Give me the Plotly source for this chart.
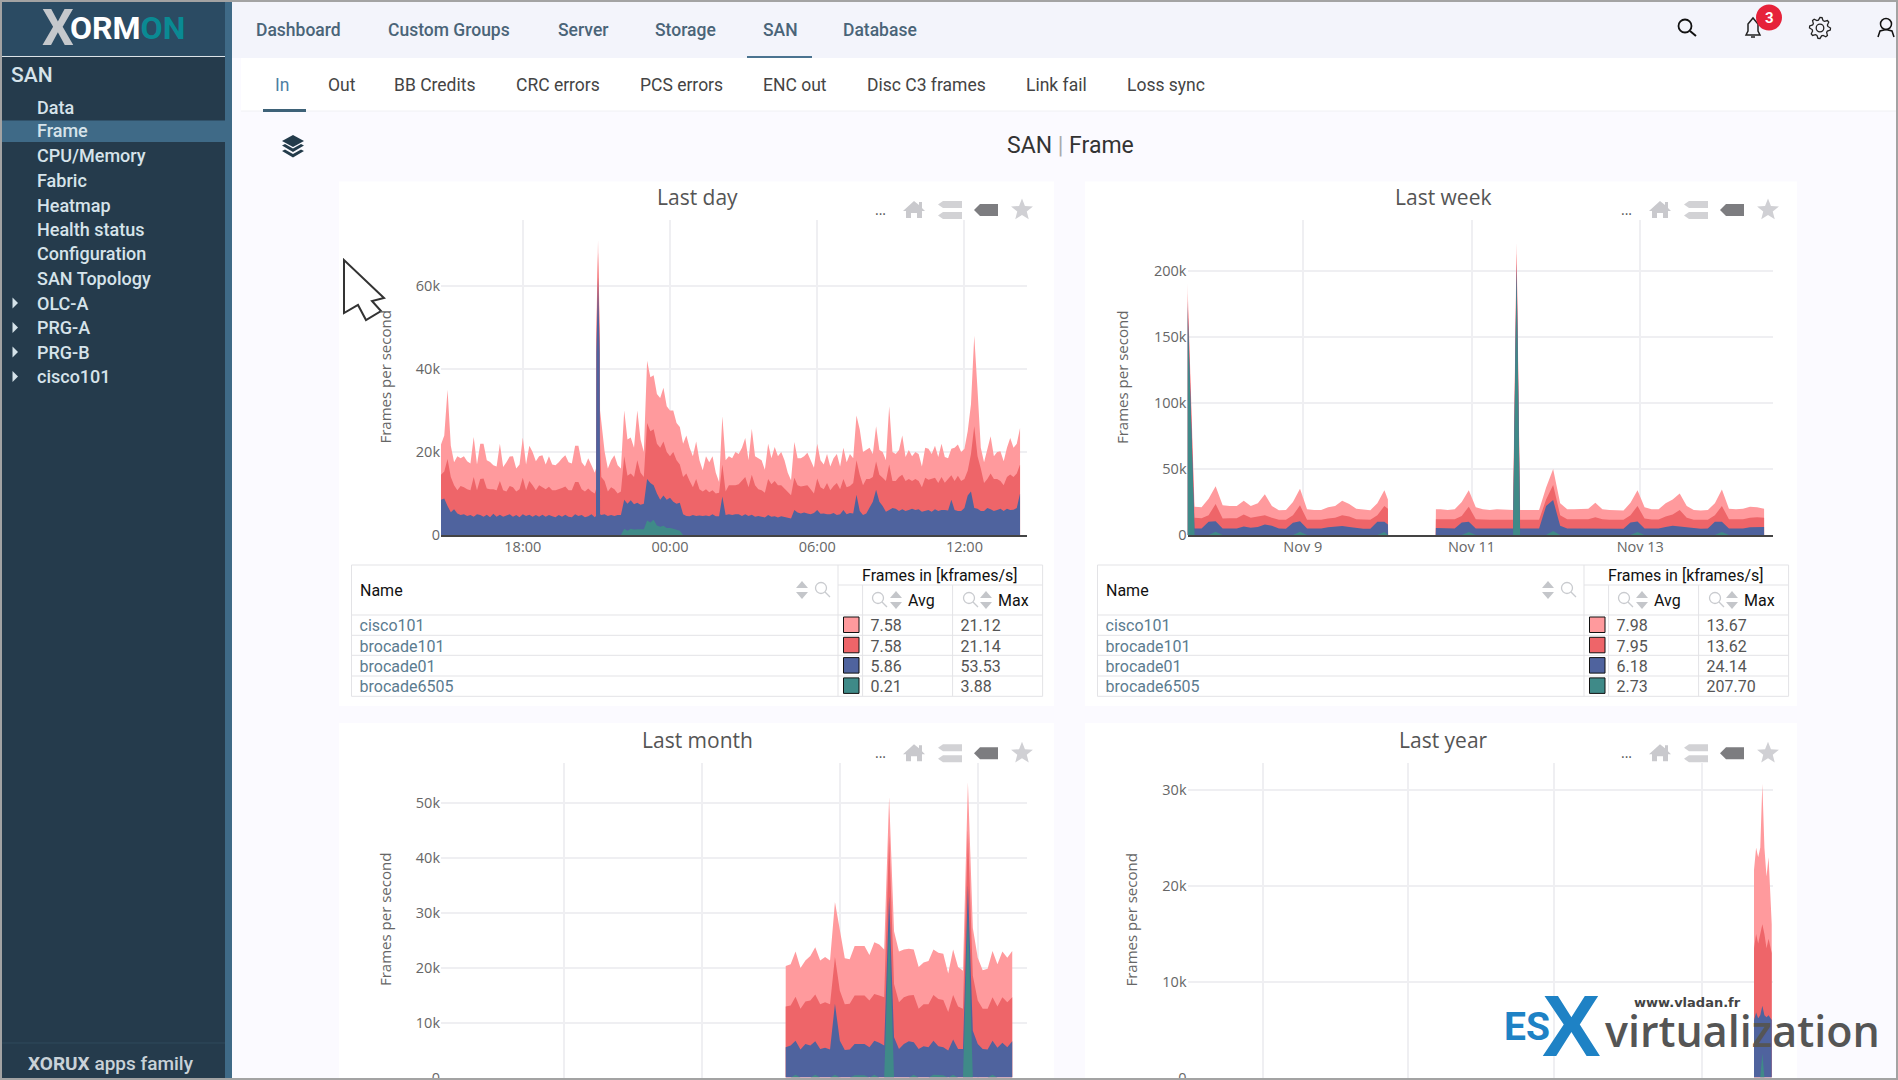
import math

import numpy as np
import pandas as pd
import plotly.graph_objects as go

W = 1898
H = 1080

PINK = "#ff9a9d"
RED = "#ee6569"
BLUE = "#4f639e"
TEAL = "#3f8a88"

hosts = ["cisco101", "brocade101", "brocade01", "brocade6505"]
host_colors = [PINK, RED, BLUE, TEAL]

# values are the stack tops, in kframes/s
day_minutes = list(range(0, 384, 8)) + [379, 380, 384, 388, 389, 392] + list(range(400, 1424, 8))
day_cisco101 = [
    21.8, 24, 35, 21.5, 17.5, 19, 18.5, 19, 17.8, 17.2, 23.6, 17, 22, 22, 18, 17.6, 16.8, 16.5, 22, 16.4, 17.5, 18.9, 19, 16,
    17, 23.5, 17, 21.5, 20, 17.8, 19, 19.2, 17, 19, 17, 16.8, 17.5, 18.5, 19.2, 17.5, 17.2, 21.5, 21.5, 17.5, 16.5, 18.5, 16.8, 15,
    16, 50, 71, 50, 30, 27,
    20.2, 16, 18, 19.2, 16.8, 16, 30, 23, 23.5, 21, 30, 23, 20, 42, 38, 38.5, 34, 33, 35.5, 31, 30, 30, 27, 26, 22, 24, 21, 19, 22.5, 18, 15.6, 19, 17.5, 19, 15, 12.8, 28.6, 18, 19, 18.5, 20,
    19.5, 21, 23.4, 18, 25.6, 19, 18.5, 18, 15.7, 22, 18.5, 21.2, 19, 20, 18, 15, 13.2, 22.4, 18.5, 18.5, 19, 19.8, 18, 16.2, 22, 18, 17, 19.5, 16.5,
    18.5, 19.5, 16.5, 21, 17.5, 19.5, 18.5, 28.8, 25.4, 20, 20.5, 21, 19.5, 26.2, 20.5, 20, 18, 31, 20, 19.5, 20.5, 24, 18.8, 20.5, 19, 20, 19.5, 16.5,
    21, 20.8, 19.5, 21.5, 18.8, 22, 18.8, 18.5, 20.8, 21, 21.8, 20, 20.8, 25, 31.5, 48, 35, 21, 17.5, 20.5, 23.8, 19, 20, 20.2, 17.8, 21, 23.4, 21, 22, 25.8,
]
day_brocade101 = [
    14.5, 15.3, 18.3, 14, 12, 10.8, 11.8, 11.5, 11, 10.8, 14, 10.8, 13.5, 13.6, 11.2, 11, 11, 10.8, 13, 10.8, 10.5, 11.8, 11.5, 10.5,
    11, 13.8, 10.8, 13, 12, 10.8, 12, 11.5, 11, 11.6, 10.8, 10.8, 11, 11.3, 11.7, 10.8, 10.8, 12.8, 12.8, 11, 10.5, 11.2, 10.5, 10,
    11, 47, 68, 47, 22, 14,
    13, 10.5, 11.5, 11, 10, 10.5, 19, 14.3, 14.8, 14, 18, 15, 14, 27, 25, 25.5, 22, 21, 22.5, 20, 19, 20, 18, 17, 14, 14.8, 13, 11.5, 13.5, 11, 10.5, 11, 10.3, 10.8, 10, 10.2, 17, 10.5, 12, 12, 12,
    12.2, 13, 14, 11.5, 14.5, 12, 11, 10.8, 10.2, 13.5, 12.2, 13, 12, 12, 11.2, 10.2, 9.6, 13.8, 12, 11.7, 11.8, 12, 11, 10, 13.6, 11.5, 11, 12.5, 10.8,
    11.8, 12.5, 11, 13.5, 11.5, 11.8, 12.5, 18, 14.5, 12, 13.5, 13.5, 14, 17.7, 14.5, 13.8, 13, 17, 13, 13, 14, 14.5, 13, 13.5, 13, 13.5, 13, 11.5,
    13.8, 13.3, 13.5, 13.8, 12.5, 14, 12.6, 13.5, 14.4, 13, 14.3, 13, 13.5, 15.5, 19.5, 26.2, 19, 16, 12.5, 13.5, 14.8, 13.5, 13.5, 13, 12, 14, 14.6, 14, 14.8, 17,
]
day_brocade01 = [
    8.5, 8.8, 7, 5.5, 6.2, 5.2, 4.8, 5, 4.6, 4.8, 4.4, 5, 4.8, 4.4, 4.9, 4.3, 5.1, 4.4, 4.9, 4.4, 4.7, 5, 4.4, 4.8,
    4.3, 5, 4.6, 4.9, 4.4, 4.8, 4.4, 4.9, 4.4, 4.8, 4.5, 4.3, 4.8, 4.4, 4.9, 4.4, 4.3, 5, 4.6, 4.8, 4.3, 4.5, 5, 4.3,
    4.6, 44, 62, 44, 5, 4.8,
    5, 4.6, 4.8, 4.6, 4.8, 4.8, 8.5, 7.5, 8.4, 7.4, 7.8, 7.3, 7.5, 13.5, 12.5, 12, 10, 8.5, 9.5, 8.5, 9, 8, 7.5, 7.8, 5, 4.6, 4.5, 4.8, 4.6, 4.7, 4.6, 4.7, 4.5, 5, 4.5, 4.5, 9.3, 4.8, 5, 4.8, 5,
    5, 4.6, 5, 4.6, 4.9, 4.4, 4.6, 4.4, 4.2, 4.8, 4.4, 4.5, 4.2, 4.5, 4.3, 4.1, 4, 6, 5.4, 5.2, 5.4, 5.2, 5, 5.3, 6, 5.1, 5.2, 5, 5,
    5.3, 4.8, 5, 6, 5, 5.3, 5.2, 9.7, 5.8, 4.8, 5.2, 6.5, 8, 10.9, 8, 7, 5.6, 6, 6.5, 6.3, 5.8, 6.2, 5.8, 6, 6.3, 6, 6.2, 5.6,
    5.8, 6, 5.6, 6.2, 5.8, 6, 6, 5.9, 8.5, 6, 5.8, 5.8, 6.5, 9.5, 10.5, 6.5, 6.3, 5.8, 5.8, 6.5, 6.2, 5.8, 6, 6.3, 5.8, 6.3, 6, 6.1, 6.5, 10,
]
day_brocade6505 = [0] * 60 + [1.5, 1, 1.5, 1.3, 1.4, 1.4, 1.4, 3.5, 3, 3.7, 2.3, 2, 2.2, 1.7, 1.7, 1.5, 1.2, 1] + [0] * 104

week_hours = list(range(0, 58, 2)) + [57, 57.05, 70.6, 70.65] + list(range(72, 94, 2)) + [92.6, 93.6, 94.6] + list(range(96, 166, 2))
week_cisco101 = [
    191, 21.5, 21, 27.5, 37, 22.5, 22, 22, 26, 22, 24, 31, 22, 18.8, 19, 25, 35, 19.5, 19, 19, 21, 22, 26, 23.5, 20, 19.5, 18.8, 24, 34,
    27, 0, 0, 19.5,
    19.5, 19, 19.5, 25, 34, 21, 19.5, 19, 19.5, 19.5, 19.5,
    19, 222, 19,
    19, 19, 19, 36, 50, 24, 19.5, 19.5, 19.8, 20, 24.5, 19.5, 19, 19, 18.5, 24.5, 34, 21, 19.5, 19.5, 24, 27, 31.5, 22, 19, 18.5, 19, 24, 34.5, 20, 19.5, 20, 21.5, 21, 20,
]
week_brocade101 = [
    184, 13, 12.8, 15, 23.5, 12.5, 12.8, 12.8, 15.5, 13, 14, 15, 13, 11.5, 11.5, 15, 22.5, 11.5, 11.5, 11.5, 12.5, 13, 15, 14, 12, 11.8, 11.5, 15, 22,
    20, 0, 0, 12,
    12, 11.8, 12, 14.5, 21.5, 12, 11.5, 11.5, 11.5, 11.5, 11.5,
    11.5, 214, 11.5,
    11.5, 11.5, 11.5, 27, 38, 15, 12, 12, 12, 12, 13.5, 12, 11.5, 11.5, 11.5, 15, 22, 12.5, 11.8, 11.8, 14, 15.5, 19, 13, 11.5, 11.5, 11.5, 15, 22, 12, 11.8, 12, 13, 13.5, 13,
]
week_brocade01 = [
    178, 4.9, 4.9, 10, 10.5, 5, 5, 5, 6.5, 5.5, 6, 8, 7, 5, 4.8, 9.3, 10.5, 5, 5, 5, 5.8, 6.3, 6.8, 6, 5.3, 4.8, 4.8, 10, 10,
    8, 0, 0, 5.3,
    5.2, 5, 5, 9.5, 10, 5, 4.9, 5, 5, 5, 5,
    5, 206, 5,
    5, 5, 5, 22, 26.5, 7, 5, 5, 5, 5, 5.2, 5, 5, 5, 4.8, 9.5, 10.3, 5, 5, 5, 6, 7, 6.5, 6, 5, 4.8, 5, 10, 10, 5, 5, 5, 5.8, 6, 6,
]
week_brocade6505 = [
    173, 0, 0, 0, 2.5, 0, 0, 0, 0, 0, 0, 0, 0, 0, 0, 0, 2.5, 0, 0, 0, 0, 0, 0, 0, 0, 0, 0, 0, 2.3,
    0, 0, 0, 0,
    0, 0, 0, 0, 2.3, 0, 0, 0, 0, 0, 0,
    0, 200, 0,
    0, 0, 0, 0, 3, 0, 0, 0, 0, 0, 0, 0, 0, 0, 0, 0, 2.3, 0, 0, 0, 0, 0, 0, 0, 0, 0, 0, 0, 2.3, 0, 0, 0, 0, 0, 0,
]

month_hours = list(range(0, 282, 6))
month_cisco101 = [
    20.3, 20.6, 22.9, 19.9, 21.3, 22.1, 23.7, 21.3, 21.9, 21.3, 31.9, 26.6, 21.7, 21.5, 23.9, 23.9, 23.9, 22.3, 24.6, 24.2, 23.3, 51, 26.6, 22.9,
    23.3, 23.4, 23.3, 20.1, 20.9, 21.2, 23.3, 22.7, 22.5, 18.9, 23.3, 20.1, 19.4, 53.7, 27.2, 21.8, 19.5, 19.8, 23, 20.6, 22.9, 21.8, 23,
]
month_brocade101 = [
    12.9, 13.1, 14.7, 12.5, 13.8, 14, 15.1, 13.3, 13.7, 13.3, 21.9, 15.8, 13.3, 13.4, 14.9, 14.9, 14.9, 14, 15.2, 14.9, 14.6, 44, 17, 13.7,
    14.6, 14.9, 15, 12.5, 13.3, 13.3, 15, 14.3, 14.1, 11.9, 15, 12.9, 12.5, 45, 18.5, 14, 12.5, 12.5, 14.6, 12.9, 14.6, 13.7, 14.6,
]
month_brocade01 = [
    5.5, 5.8, 6.7, 5.1, 6.1, 5.8, 6.6, 5.2, 5.4, 5.1, 13.4, 6.7, 5, 5.1, 6.1, 6.1, 6.1, 5.5, 6.7, 6.3, 5.8, 33, 7.3, 5.2,
    6.1, 6.6, 6.4, 5.2, 5.7, 5.5, 6.7, 5.7, 5.5, 4.9, 6.9, 5.2, 5.2, 35, 8.5, 6.1, 5.2, 5.1, 6.7, 5.4, 6.3, 5.5, 6.6,
]
month_brocade6505 = [
    0, 0, 0.5, 0, 0, 0, 0.5, 0, 0, 0, 0.5, 0, 0, 0, 0.4, 0.4, 0.4, 0, 0.5, 0, 0, 28, 0, 0,
    0, 0, 0.5, 0, 0, 0, 0.5, 0.4, 0.4, 0, 0.5, 0, 0, 30, 0, 0, 0, 0, 0.5, 0, 0, 0, 0,
]

year_dates = ["2019-11-02 05:00", "2019-11-03 12:00", "2019-11-04 19:00", "2019-11-06 02:00", "2019-11-07 09:00",
              "2019-11-08 16:00", "2019-11-09 23:00", "2019-11-11 06:00", "2019-11-13 05:00"]
year_cisco101 = [21.7, 24, 23, 24, 30.7, 24, 21, 23, 16]
year_brocade101 = [13.5, 15, 14, 15, 16, 15, 13.5, 14.5, 13]
year_brocade01 = [6, 6.8, 6.2, 6.5, 7.5, 6.5, 6.3, 6.5, 6]
year_brocade6505 = [0, 0, 0, 0, 2.5, 0, 0, 0, 0]

day_avg = ["7.58", "7.58", "5.86", "0.21"]
day_max = ["21.12", "21.14", "53.53", "3.88"]
week_avg = ["7.98", "7.95", "6.18", "2.73"]
week_max = ["13.67", "13.62", "24.14", "207.70"]

side_items = ["Data", "Frame", "CPU/Memory", "Fabric", "Heatmap", "Health status", "Configuration", "SAN Topology",
              "OLC-A", "PRG-A", "PRG-B", "cisco101"]
nav_items = [("Dashboard", 254.5), ("Custom Groups", 386.5), ("Server", 557), ("Storage", 654), ("SAN", 762), ("Database", 842)]
tab_items = [("In", 274), ("Out", 326.5), ("BB Credits", 393), ("CRC errors", 515), ("PCS errors", 639), ("ENC out", 762),
             ("Disc C3 frames", 866), ("Link fail", 1025), ("Loss sync", 1126)]


def px(x):
    return x / W


def py(y):
    return 1 - y / H


shapes = []
annotations = []


def rect(x0, y0, x1, y1, fill, line=None, width=1, layer="below"):
    shapes.append(dict(type="rect", xref="paper", yref="paper", x0=px(x0), x1=px(x1), y0=py(y0), y1=py(y1),
                       fillcolor=fill, line=dict(color=line, width=width if line else 0), layer=layer))


def poly(points, fill=None, line=None, width=1, layer="above", close=True):
    d = "M" + " L".join(f"{px(x):.5f},{py(y):.5f}" for x, y in points)
    if close:
        d += " Z"
    shapes.append(dict(type="path", xref="paper", yref="paper", path=d, fillcolor=fill or "rgba(0,0,0,0)",
                       line=dict(color=line, width=width if line else 0), layer=layer))


def circle(cx, cy, r, fill=None, line=None, width=1, layer="above"):
    shapes.append(dict(type="circle", xref="paper", yref="paper", x0=px(cx - r), x1=px(cx + r), y0=py(cy + r), y1=py(cy - r),
                       fillcolor=fill or "rgba(0,0,0,0)", line=dict(color=line, width=width if line else 0), layer=layer))


def label(x, y, text, size=16, color="#444", anchor="left", family="Roboto", weight=400, angle=0):
    annotations.append(dict(xref="paper", yref="paper", x=px(x), y=py(y), text=text, showarrow=False, xanchor=anchor,
                            yanchor="middle", textangle=angle, borderpad=0,
                            font=dict(family=family, size=size, color=color, weight=weight)))


def sort_icon(cx, cy, color="#c4c6ca"):
    poly([(cx - 6, cy - 2), (cx, cy - 9), (cx + 6, cy - 2)], fill=color)
    poly([(cx - 6, cy + 2), (cx, cy + 9), (cx + 6, cy + 2)], fill=color)


def search_icon(cx, cy, color="#c9cbcf"):
    circle(cx - 1, cy - 2, 5.5, line=color, width=1.3)
    poly([(cx + 3, cy + 2), (cx + 8, cy + 7)], line=color, width=1.3, close=False)


def card_icons(dx, dy):
    poly([(d[0] + 914 + dx, d[1] + 210 + dy) for d in [(-11, 1), (0, -9), (5, -5), (5, -8), (8, -8), (8, -2), (11, 1), (8, 1),
                                                        (8, 8), (3, 8), (3, 3), (-3, 3), (-3, 8), (-8, 8), (-8, 1)]], fill="#c9c9cd")
    for top in (201, 212):
        poly([(938 + dx, top + 3.5 + dy), (943 + dx, top + dy), (962 + dx, top + dy), (962 + dx, top + 7 + dy), (943 + dx, top + 7 + dy)],
             fill="#d2d2d5")
    poly([(974 + dx, 210 + dy), (980 + dx, 204 + dy), (998 + dx, 204 + dy), (998 + dx, 216 + dy), (980 + dx, 216 + dy)], fill="#7d7d80")
    star = []
    for i in range(10):
        r = 11.5 if i % 2 == 0 else 5
        a = -math.pi / 2 + i * math.pi / 5
        star.append((1022 + dx + r * math.cos(a), 210 + dy + r * math.sin(a)))
    poly(star, fill="#d0d0d4")
    label(880 + dx, 209 + dy, "...", size=14, color="#555", anchor="center", family="Open Sans")


def table_chrome(dx):
    # grid, spanning header row and the little icons, table trace only holds the rows
    grid = "#e3e3e6"
    for y in (565, 615, 635.3, 655.3, 676, 696.3):
        poly([(351.5 + dx, y), (1042.6 + dx, y)], line=grid, close=False)
    poly([(838 + dx, 585), (1042.6 + dx, 585)], line=grid, close=False)
    for x in (351.5, 838, 1042.6):
        poly([(x + dx, 565), (x + dx, 696.3)], line=grid, close=False)
    for x in (862.6, 952.6):
        poly([(x + dx, 585), (x + dx, 696.3)], line=grid, close=False)
    label(940 + dx, 575.5, "Frames in [kframes/s]", size=16, color="#111", anchor="center")
    label(359 + dx, 590, "Name", size=16, color="#111")
    label(907 + dx, 600, "Avg", size=16, color="#111")
    label(997 + dx, 600, "Max", size=16, color="#111")
    sort_icon(802 + dx, 590)
    search_icon(822 + dx, 590)
    for s, m in ((879, 896), (970, 986)):
        search_icon(s + dx, 600)
        sort_icon(m + dx, 600)
    for i, color in enumerate(host_colors):
        top = 617 + i * 20.3
        rect(843.5 + dx, top, 859 + dx, top + 15.5, color, line="#111", width=1, layer="above")


fig = go.Figure()


def add_chart(n, xs, tops, x_px, y_px, xrange, ymax, dtick, tick0, xdtick, xfmt, show_x=True):
    for top, color, name in zip(tops, host_colors, hosts):
        assert len(top) == len(xs), (n, name, len(top), len(xs))
        fig.add_trace(go.Scatter(x=xs, y=np.array(top) * 1000, name=name, mode="lines", line=dict(width=0, color=color),
                                 fill="tozeroy", fillcolor=color, hoverinfo="skip", showlegend=False,
                                 xaxis=f"x{n}", yaxis=f"y{n}"))
    tick_font = dict(family="Open Sans", size=14.5, color="#666")
    fig.update_layout(**{
        f"xaxis{n}": dict(domain=[px(x_px[0]), px(x_px[1])], anchor=f"y{n}", type="date", range=xrange, tick0=tick0, dtick=xdtick,
                          tickformat=xfmt, showgrid=True, gridcolor="#efeff2", gridwidth=1.5, showline=True, linecolor="#444",
                          linewidth=2, ticks="", tickfont=tick_font, zeroline=False, showticklabels=show_x, ticklabelstandoff=-2),
        f"yaxis{n}": dict(domain=[py(y_px[1]), py(y_px[0])], anchor=f"x{n}", range=[0, ymax], dtick=dtick, tickformat="~s",
                          showgrid=True, gridcolor="#efeff2", gridwidth=1.5, showline=False, ticks="", tickfont=tick_font,
                          zeroline=False, ticklabeloverflow="allow"),
    })


def minutes_to_dates(start, minutes):
    return (pd.Timestamp(start) + pd.to_timedelta(minutes, unit="min")).strftime("%Y-%m-%d %H:%M:%S").tolist()


MS_DAY = 86400000

add_chart(1, minutes_to_dates("2019-11-13 14:40", day_minutes), [day_cisco101, day_brocade101, day_brocade01, day_brocade6505],
          (441, 1027), (220, 535), ["2019-11-13 14:40", "2019-11-14 14:33"], 75900, 20000, "2019-11-13 18:00", MS_DAY / 4, "%H:%M")
add_chart(2, minutes_to_dates("2019-11-07 15:13", [h * 60 for h in week_hours]),
          [week_cisco101, week_brocade101, week_brocade01, week_brocade6505],
          (1187.5, 1773), (220, 535), ["2019-11-07 15:13", "2019-11-14 13:45"], 239000, 50000, "2019-11-09", 2 * MS_DAY, "%b %-d")
add_chart(3, minutes_to_dates("2019-11-02 06:00", [h * 60 for h in month_hours]),
          [month_cisco101, month_brocade101, month_brocade01, month_brocade6505],
          (441, 1027), (763, 1077.5), ["2019-10-15 18:00", "2019-11-14 12:00"], 57200, 10000, "2019-10-22", 7 * MS_DAY, "%b %-d", show_x=False)
add_chart(4, year_dates, [year_cisco101, year_brocade101, year_brocade01, year_brocade6505],
          (1187.5, 1773), (763, 1077.5), ["2018-11-15", "2019-11-14"], 32860, 10000, "2019-01-01", "M3", "%b", show_x=False)

for dx, names_avg, names_max in ((0, day_avg, day_max), (746, week_avg, week_max)):
    fig.add_trace(go.Table(
        domain=dict(x=[px(351.5 + dx), px(1043 + dx)], y=[py(698), py(565)]),
        columnwidth=[486.5, 24.6, 90, 90],
        header=dict(values=["", "", "", ""], height=46.4, fill_color="#ffffff", line_color="#ffffff"),
        cells=dict(values=[hosts, ["", "", "", ""], names_avg, names_max], height=20.3, fill_color="#ffffff", line_color="#ffffff",
                   align="left", font=dict(family="Roboto", size=16, color=[["#5b7b8f"] * 4, ["#555"] * 4, ["#555"] * 4, ["#555"] * 4])),
    ))
    table_chrome(dx)

# page chrome
rect(232, 58, W, 111, "#ffffff")
rect(232, 2, W, 58, "#f3f4fb")
rect(232, 58, 241, 111, "#fbfaff")
poly([(241, 111), (W, 111)], line="#f0f0f4", layer="below", close=False)
rect(0, 0, 225, H, "#253b4c")
rect(225, 0, 232, H, "#3f6a87")
rect(0, 0, 225, 56, "#2b4b63")
poly([(2, 56.5), (225, 56.5)], line="#dfe6ea", width=1, close=False)
rect(2, 120.5, 225, 142, "#3f6a87")
poly([(2, 1043), (225, 1043)], line="#2f4a5c", width=1, close=False)

for cx0, cx1 in ((339, 1054), (1085, 1797)):
    rect(cx0, 181.5, cx1, 706, "#ffffff")
    rect(cx0, 723, cx1, H, "#ffffff")

# logo and sidebar
label(41, 28, "X", size=50, color="#c5c8cc", weight=700)
label(69, 28, "ORM<span style=\"color:#0a8a93\">ON</span>", size=32, color="#ffffff", weight=700)
label(10, 74.5, "SAN", size=21, color="#d6e3ea", weight=500)
side_y = [107, 130.5, 155.5, 180.5, 205, 229.5, 254, 278.5, 303, 327.5, 352, 376.5]
for name, y in zip(side_items, side_y):
    label(35.5, y, name, size=18, color="#d6e3ea", weight=500)
for y in side_y[8:]:
    poly([(12.5, y - 5.5), (18, y), (12.5, y + 5.5)], fill="#d6e3ea")
label(27, 1063, "<b>XORUX</b> apps family", size=19, color="#c9d2d8", weight=500)

# top bar and tabs
for name, x in nav_items:
    label(x, 30, name, size=17.5, color="#4a6478", weight=500)
poly([(747, 57), (812, 57)], line="#4a7390", width=2, close=False)
for name, x in tab_items:
    label(x, 85, name, size=17.5, color="#4d7fa3" if name == "In" else "#444")
rect(263, 109, 306, 112, "#3e6278", layer="above")

poly([(293, 135), (304, 141), (293, 147), (282, 141)], fill="#233b4b")
for shift in (0, 5.5):
    poly([(282, 145.5 + shift), (285, 144 + shift), (293, 148.5 + shift), (301, 144 + shift), (304, 145.5 + shift), (293, 152 + shift)],
         fill="#233b4b")
label(1070, 145, "SAN <span style=\"color:#aaa\">|</span> Frame", size=23, color="#333", anchor="center")

# right icons
circle(1685, 26, 6.5, line="#111", width=1.8)
poly([(1690, 31), (1696, 36)], line="#111", width=2, close=False)
poly([(1746, 35), (1748, 31), (1748, 24), (1753, 18), (1758, 24), (1758, 31), (1760, 35)], line="#222", width=1.5)
poly([(1751, 37), (1755, 37)], line="#222", width=1.5, close=False)
circle(1769, 17.5, 13, fill="#e6223a")
label(1769, 17.5, "3", size=15, color="#ffffff", anchor="center", weight=700)
gear = []
for i in range(32):
    r = 10.5 if i % 4 in (0, 1) else 8
    a = i * math.pi / 16
    gear.append((1820 + r * math.cos(a), 28 + r * math.sin(a)))
poly(gear, line="#222", width=1.3)
circle(1820, 28, 3.8, line="#222", width=1.3)
circle(1886, 24, 5.5, line="#111", width=1.5)
poly([(1878, 37), (1880, 31), (1886, 29.5), (1892, 31), (1894, 37)], line="#111", width=1.5, close=False)

# chart titles and axis titles
titles = [("Last day", 697, 196.5, 385), ("Last week", 1443, 196.5, 1122.5), ("Last month", 697, 739.5, 385), ("Last year", 1443, 739.5, 1130.5)]
for i, (name, tx, ty, ax) in enumerate(titles):
    label(tx, ty, name, size=21, color="#555", anchor="center", family="Open Sans")
    label(ax, 377.5 if ty < 500 else 920, "Frames per second", size=15, color="#666", anchor="center", family="Open Sans", angle=-90)
    card_icons(0 if tx < 1000 else 746, 0 if ty < 500 else 543.3)

# mouse pointer left in the screenshot
poly([(344, 260), (344, 313), (358, 305), (366, 320), (381, 311), (372, 301), (384, 298)], fill="#ffffff", line="#333", width=2)

# watermark
label(1503, 1027, "ES", size=39, color="#1e82c5", weight=700)
label(1571, 1025, "X", size=88, color="#1e82c5", anchor="center", weight=700, family="Liberation Sans")
label(1604, 1030, "virtualization", size=43, color="#555", weight=600, family="Open Sans")
label(1633, 1002, "www.vladan.fr", size=13, color="#444", weight=700, family="DejaVu Sans")

# grey frame of the screenshot
for x0, y0, x1, y1 in ((0, 0, W, 2), (0, 1078, W, H), (0, 0, 2, H), (1896, 0, W, H)):
    rect(x0, y0, x1, y1, "#a3a3a3", layer="above")

fig.update_layout(width=W, height=H, autosize=False, margin=dict(l=0, r=0, t=0, b=0, autoexpand=False),
                  paper_bgcolor="#fbfaff", plot_bgcolor="rgba(0,0,0,0)",
                  showlegend=False, shapes=shapes, annotations=annotations)

fig.write_html("out.html", post_script="document.body.style.margin='0';document.body.style.overflow='hidden';",
               config=dict(displayModeBar=False))
